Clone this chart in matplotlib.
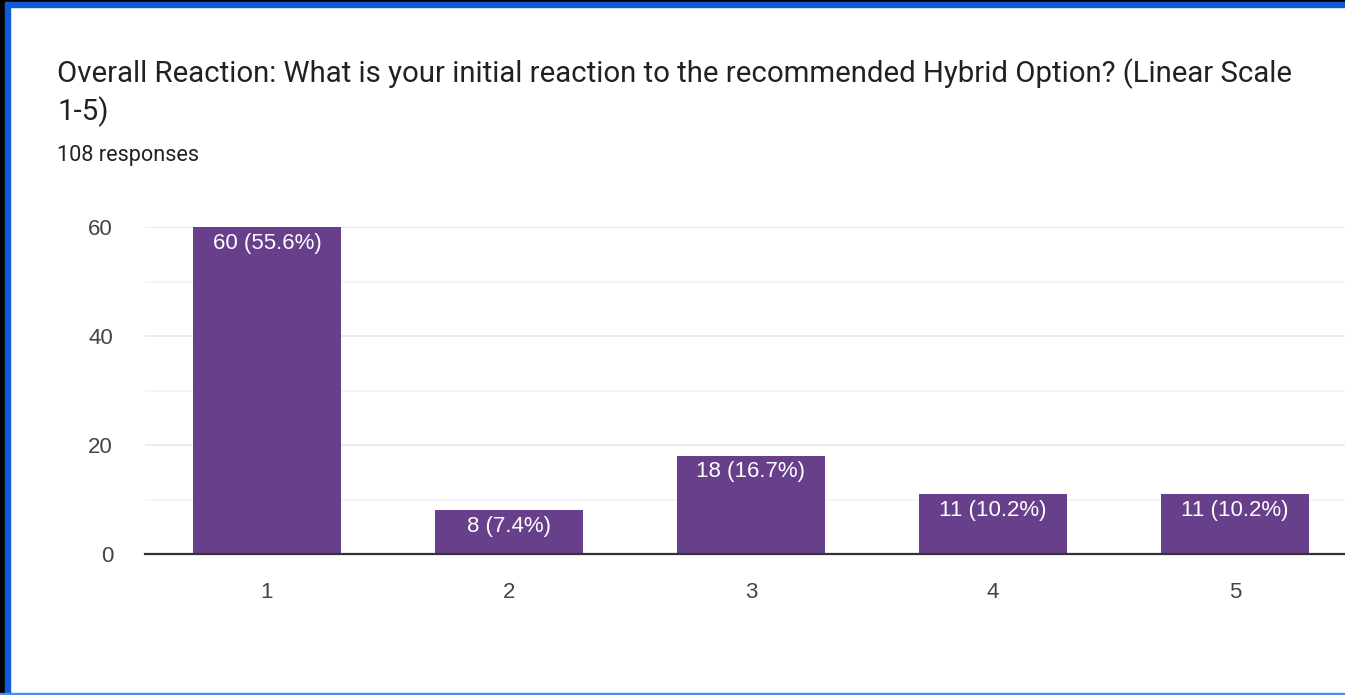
import matplotlib.pyplot as plt
from matplotlib.patches import Rectangle

plt.rcParams['font.family'] = ['Roboto', 'DejaVu Sans']

categories = ['1', '2', '3', '4', '5']
counts = [60, 8, 18, 11, 11]
percents = [55.6, 7.4, 16.7, 10.2, 10.2]
title = 'Overall Reaction: What is your initial reaction to the recommended Hybrid Option? (Linear Scale\n1-5)'
subtitle = '108 responses'

W, H = 1345, 695
fig = plt.figure(figsize=(W / 100, H / 100), dpi=100)
fig.patch.set_facecolor('white')

# frame around the screenshot: black edge, then a blue border
fig.patches.append(Rectangle((0, 0), 5 / W, 1, transform=fig.transFigure, color='black', zorder=5))
fig.patches.append(Rectangle((5 / W, 0), 5 / W, 1, transform=fig.transFigure, color='#1259d8', zorder=5))
fig.patches.append(Rectangle((0, 1 - 2 / H), 1, 2 / H, transform=fig.transFigure, color='black', zorder=5))
fig.patches.append(Rectangle((5 / W, 1 - 7 / H), 1, 5 / H, transform=fig.transFigure, color='#1259d8', zorder=5))
fig.patches.append(Rectangle((0, 0), 1, 2 / H, transform=fig.transFigure, color='#4a8ae8', zorder=5))

fig.text(57 / W, 1 - 58 / H, title, fontsize=21.2, color='#202124', va='top', ha='left', linespacing=1.32)
fig.text(57 / W, 1 - 145 / H, subtitle, fontsize=15.6, color='#202124', va='top', ha='left')

chart_font = ['Liberation Sans', 'DejaVu Sans']

ax = fig.add_axes([145 / W, 1 - 554 / H, 1210 / W, 327 / H])
x = list(range(len(categories)))
bars = ax.bar(x, counts, width=0.615, color='#673f8b', zorder=3)
ax.set_xlim(-0.504, 4.496)
ax.set_ylim(0, 60)
ax.set_yticks([0, 20, 40, 60])
ax.set_yticks([10, 30, 50], minor=True)
ax.set_xticks(x)
ax.set_xticklabels(categories)
ax.tick_params(axis='both', length=0, labelsize=16, labelcolor='#444444')
ax.tick_params(axis='x', pad=20)
ax.tick_params(axis='y', pad=23)
ax.tick_params(axis='y', which='minor', length=0)
for lab in ax.get_xticklabels() + ax.get_yticklabels():
    lab.set_family(chart_font)
ax.grid(axis='y', which='major', color='#e8e8e8', linewidth=1.2, zorder=0)
ax.grid(axis='y', which='minor', color='#f4f4f4', linewidth=1.2, zorder=0)
for s in ['top', 'right', 'left']:
    ax.spines[s].set_visible(False)
ax.spines['bottom'].set_color('#333333')
ax.spines['bottom'].set_linewidth(1.6)
ax.spines['bottom'].set_zorder(4)

for i, b in enumerate(bars):
    ax.annotate('%d (%.1f%%)' % (counts[i], percents[i]),
                (b.get_x() + b.get_width() / 2, b.get_height()),
                xytext=(0, -4), textcoords='offset points',
                ha='center', va='top', fontsize=16, color='white', zorder=5,
                family=chart_font)

fig.savefig('out.png', dpi=100, facecolor='white')
